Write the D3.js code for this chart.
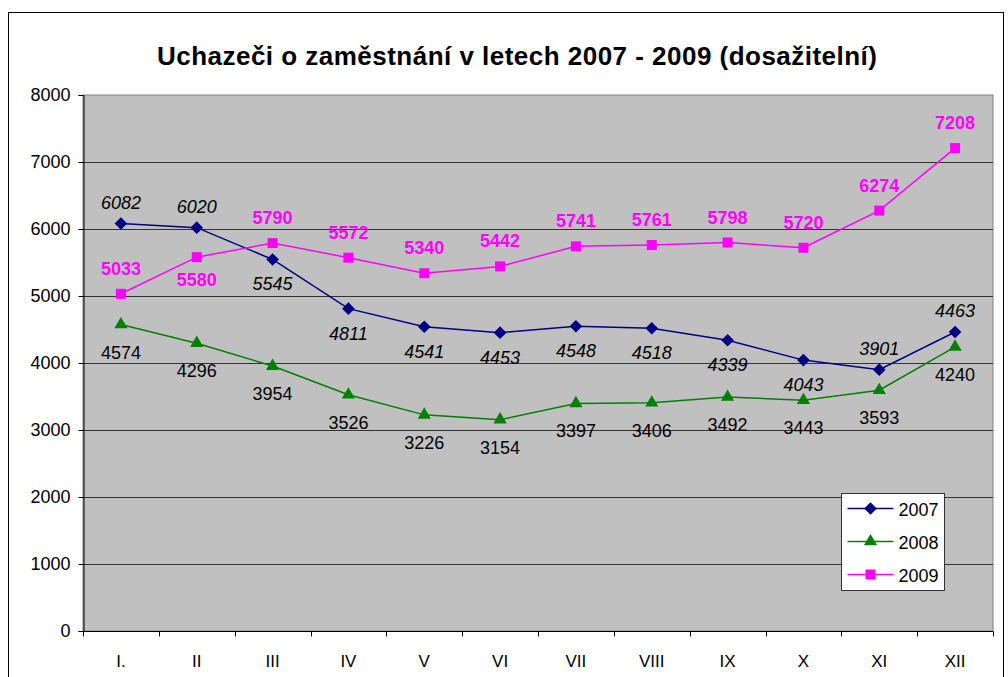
<!DOCTYPE html>
<html>
<head>
<meta charset="utf-8">
<title>Uchazeči</title>
<style>
  body { margin: 0; background: #fff; }
  text { font-family: "Liberation Sans", Arial, sans-serif; }
</style>
</head>
<body>
<svg width="1008" height="677"></svg>
<script src="https://d3js.org/d3.v7.min.js"></script>
<script>

var months = ["I.", "II", "III", "IV", "V", "VI", "VII", "VIII", "IX", "X", "XI", "XII"];
var v2007 = [6082, 6020, 5545, 4811, 4541, 4453, 4548, 4518, 4339, 4043, 3901, 4463];
var v2008 = [4574, 4296, 3954, 3526, 3226, 3154, 3397, 3406, 3492, 3443, 3593, 4240];
var v2009 = [5033, 5580, 5790, 5572, 5340, 5442, 5741, 5761, 5798, 5720, 6274, 7208];
// label above (-1) or below (1) the point
var pos2007 = [-1, -1, 1, 1, 1, 1, 1, 1, 1, 1, -1, -1];
var pos2008 = [1, 1, 1, 1, 1, 1, 1, 1, 1, 1, 1, 1];
var pos2009 = [-1, 1, -1, -1, -1, -1, -1, -1, -1, -1, -1, -1];
var yTicks = [0, 1000, 2000, 3000, 4000, 5000, 6000, 7000, 8000];

var diamond = {
  draw: function(ctx, size) {
    var r = Math.sqrt(size / 2);
    ctx.moveTo(0, -r); ctx.lineTo(r, 0); ctx.lineTo(0, r); ctx.lineTo(-r, 0); ctx.closePath();
  }
};

var series = [
  { name: "2007", values: v2007, pos: pos2007, color: "#000080", symbol: diamond, size: 80,
    style: "italic", weight: "normal", labelColor: "#000", up: -15, down: 31 },
  { name: "2008", values: v2008, pos: pos2008, color: "#008000", symbol: d3.symbolTriangle, size: 75,
    style: "normal", weight: "normal", labelColor: "#000", up: -15, down: 34 },
  { name: "2009", values: v2009, pos: pos2009, color: "#ff00ff", symbol: d3.symbolSquare, size: 100,
    style: "normal", weight: "bold", labelColor: "#ff00ff", up: -19, down: 29 }
];

var svg = d3.select("svg");

// outer chart border
svg.append("rect")
    .attr("x", 8.5).attr("y", 12.5)
    .attr("width", 995).attr("height", 680)
    .attr("fill", "#fff").attr("stroke", "#000").attr("stroke-width", 1);

svg.append("text")
    .attr("x", 517).attr("y", 65)
    .attr("text-anchor", "middle")
    .style("font-size", "26px").style("font-weight", "bold")
    .attr("textLength", 720)
    .text("Uchazeči o zaměstnání v letech 2007 - 2009 (dosažitelní)");

var pLeft = 83, pRight = 993, pTop = 95, pBottom = 631;

var x = d3.scaleBand().domain(months).range([pLeft, pRight]);
var y = d3.scaleLinear().domain([0, 8000]).range([pBottom, pTop]);

svg.append("rect")
    .attr("x", pLeft).attr("y", pTop)
    .attr("width", pRight - pLeft).attr("height", pBottom - pTop)
    .attr("fill", "#c0c0c0").attr("stroke", "#808080");

// gridlines
svg.append("g").selectAll("line")
  .data(yTicks.filter(function(d) { return d > 0 && d < 8000; }))
  .enter().append("line")
    .attr("x1", pLeft).attr("x2", pRight)
    .attr("y1", function(d) { return Math.round(y(d)) + 0.5; })
    .attr("y2", function(d) { return Math.round(y(d)) + 0.5; })
    .attr("stroke", "#333").attr("stroke-width", 1);

// y axis
var yAxis = svg.append("g")
    .attr("transform", "translate(" + (pLeft + 0.5) + ",0)")
    .call(d3.axisLeft(y).tickValues(yTicks).tickSize(5).tickPadding(8).tickFormat(d3.format("d")));
yAxis.selectAll("text").style("font-size", "18px").attr("fill", "#000")
    .style("font-family", "Liberation Sans, Arial, sans-serif");
yAxis.selectAll("line").attr("stroke", "#000");
yAxis.select(".domain").attr("stroke", "#000");

// x axis with ticks between categories
var xg = svg.append("g").attr("transform", "translate(0," + (pBottom + 0.5) + ")");
xg.append("line").attr("x1", pLeft).attr("x2", pRight).attr("stroke", "#000");
xg.selectAll(".tk")
  .data(months.concat(["end"]))
  .enter().append("line")
    .attr("class", "tk")
    .attr("x1", function(d, i) { return Math.round(pLeft + i * x.step()) + 0.5; })
    .attr("x2", function(d, i) { return Math.round(pLeft + i * x.step()) + 0.5; })
    .attr("y1", 0).attr("y2", 5)
    .attr("stroke", "#000");
xg.selectAll(".lb")
  .data(months)
  .enter().append("text")
    .attr("x", function(d) { return x(d) + x.bandwidth() / 2; })
    .attr("y", 35)
    .attr("text-anchor", "middle")
    .style("font-size", "17px")
    .text(function(d) { return d; });

var line = d3.line()
    .x(function(d, i) { return x(months[i]) + x.bandwidth() / 2; })
    .y(function(d) { return y(d); });

series.forEach(function(s) {
  var g = svg.append("g");
  g.append("path")
      .datum(s.values)
      .attr("d", line)
      .attr("fill", "none")
      .attr("stroke", s.color)
      .attr("stroke-width", 1.5);
  g.selectAll("path.m")
    .data(s.values)
    .enter().append("path")
      .attr("class", "m")
      .attr("d", d3.symbol().type(s.symbol).size(s.size))
      .attr("transform", function(d, i) {
        return "translate(" + (x(months[i]) + x.bandwidth() / 2) + "," + y(d) + ")";
      })
      .attr("fill", s.color);
  g.selectAll("text")
    .data(s.values)
    .enter().append("text")
      .attr("x", function(d, i) { return x(months[i]) + x.bandwidth() / 2; })
      .attr("y", function(d, i) { return y(d) + (s.pos[i] < 0 ? s.up : s.down); })
      .attr("text-anchor", "middle")
      .style("font-size", "18px")
      .style("font-style", s.style)
      .style("font-weight", s.weight)
      .attr("fill", s.labelColor)
      .text(function(d) { return d; });
});

// legend
var lg = svg.append("g").attr("transform", "translate(841.5,493.5)");
lg.append("rect").attr("width", 103).attr("height", 97)
    .attr("fill", "#fff").attr("stroke", "#333");
series.forEach(function(s, i) {
  var yy = 15 + i * 33;
  lg.append("line").attr("x1", 6).attr("x2", 52).attr("y1", yy).attr("y2", yy)
      .attr("stroke", s.color).attr("stroke-width", 1.5);
  lg.append("path")
      .attr("d", d3.symbol().type(s.symbol).size(s.size))
      .attr("transform", "translate(29," + yy + ")")
      .attr("fill", s.color);
  lg.append("text").attr("x", 57).attr("y", yy + 7)
      .style("font-size", "18px").text(s.name);
});

</script>
</body>
</html>
